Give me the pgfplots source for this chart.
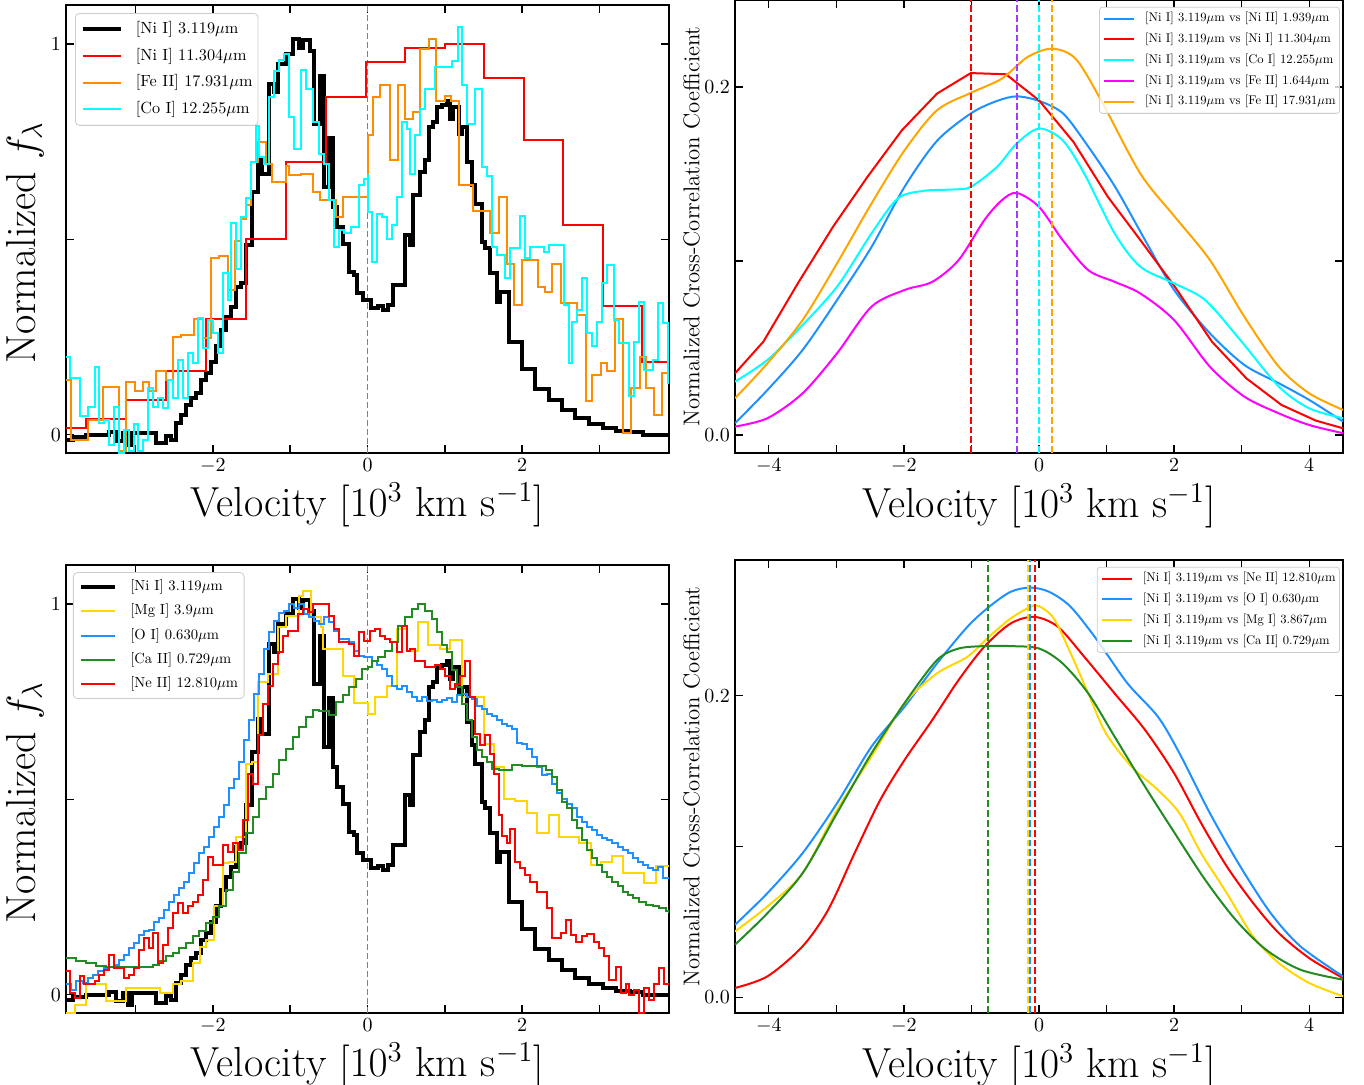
\documentclass[border=0pt]{standalone}
\usepackage{graphicx}
\usepackage{pgfplots}
\usepackage{pgfplotstable}
\pgfplotsset{compat=1.18}

\definecolor{dorange}{HTML}{FF8C00}
\definecolor{lorange}{HTML}{FFA500}
\definecolor{dodger}{HTML}{1E90FF}
\definecolor{forest}{HTML}{228B22}
\definecolor{goldc}{HTML}{FFD700}
\definecolor{cyanc}{HTML}{00FFFF}
\definecolor{magc}{HTML}{FF00FF}
\definecolor{redc}{HTML}{FF0000}

% legend texts: 10pt design size, scaled down
\newcommand\lgA[1]{\scalebox{0.81}{#1}}
\newcommand\lgB[1]{\scalebox{0.73}{#1}}
\newcommand\lgC[1]{\scalebox{0.63}{#1}}

% [Ni I] 3.119um, shared by both spectrum panels
\pgfplotstableread{
v f
-3.90 -0.013
-3.81 -0.006
-3.64 0.000
-3.34 0.008
-3.25 -0.017
-3.16 0.004
-3.10 -0.026
-3.04 0.004
-2.73 -0.021
-2.61 -0.004
-2.54 -0.013
-2.48 0.030
-2.41 0.051
-2.35 0.077
-2.28 0.094
-2.22 0.106
-2.15 0.140
-2.09 0.157
-2.02 0.187
-1.96 0.226
-1.89 0.268
-1.83 0.302
-1.77 0.328
-1.70 0.379
-1.64 0.387
-1.57 0.485
-1.49 0.621
-1.42 0.706
-1.36 0.668
-1.27 0.898
-1.21 0.877
-1.16 0.949
-1.06 0.974
-0.97 1.013
-0.88 0.991
-0.83 1.010
-0.75 0.983
-0.69 0.796
-0.62 0.917
-0.56 0.634
-0.50 0.760
-0.45 0.583
-0.39 0.532
-0.32 0.489
-0.24 0.417
-0.17 0.409
-0.13 0.362
-0.06 0.345
0.05 0.323
0.14 0.330
0.20 0.319
0.27 0.332
0.33 0.383
0.49 0.511
0.55 0.485
0.59 0.613
0.68 0.672
0.75 0.702
0.79 0.787
0.85 0.800
0.90 0.838
0.96 0.843
1.03 0.855
1.07 0.809
1.11 0.838
1.18 0.770
1.22 0.787
1.29 0.698
1.35 0.638
1.39 0.591
1.48 0.494
1.52 0.477
1.59 0.413
1.68 0.340
1.72 0.366
1.83 0.238
2.00 0.168
2.17 0.117
2.35 0.089
2.52 0.064
2.69 0.043
2.87 0.026
3.04 0.017
3.21 0.009
3.39 0.006
3.56 0.000
3.90 0.000
}\niI

\pgfplotsset{
  panel/.style={
    scale only axis,
    tick align=inside,
    major tick length=4pt, minor tick length=4pt,
    every tick/.style={black, line width=0.7pt},
    axis line style={black, line width=0.8pt},
    tick label style={font=\fontsize{10}{12}\selectfont},
    xticklabel style={yshift=0.8pt},
    yticklabel style={xshift=1pt},
    label style={font=\fontsize{21}{25}\selectfont},
    xlabel={Velocity [$10^3$ km s$^{-1}$]},
    xlabel style={at={(axis description cs:0.5,-0.116)}, anchor=center},
    legend cell align=left,
  },
  spec/.style={panel,
    width=301.5pt, height=224pt,
    xmin=-3.9, xmax=3.9, ymin=-0.047, ymax=1.1,
    xtick={-2,0,2}, minor xtick={-3,-1,1,3},
    ytick={0,1}, minor ytick={0.5},
    ylabel={Normalized $f_\lambda$},
    ylabel style={at={(axis description cs:-0.068,0.47)}, anchor=center},
  },
  ccf/.style={panel,
    width=304pt, height=226.5pt,
    xmin=-4.5, xmax=4.5, ymin=-0.0104,
    xtick={-4,-2,0,2,4}, minor xtick={-3,-1,1,3},
    ytick={0,0.2}, minor ytick={0.1},
    scaled y ticks=false,
    yticklabel style={/pgf/number format/.cd, fixed, fixed zerofill, precision=1},
    ylabel={Normalized Cross-Correlation Coefficient},
    ylabel style={font=\fontsize{11.4}{13}\selectfont, at={(axis description cs:-0.0715,0.5)}, anchor=center},
    legend style={at={(0.995,0.985)}, anchor=north east,
      font=\fontsize{10}{12}\selectfont, draw=black!20, rounded corners=1.5pt,
      fill=white, fill opacity=0.8, text opacity=1,
      inner xsep=2pt, inner ysep=2.65pt, row sep=4.2pt, column sep=4.85pt,
      nodes={inner sep=0pt, text height=4.6pt, text depth=1.6pt}},
    legend image code/.code={\draw[#1] (0pt,0pt) -- (15pt,0pt);},
  },
  zero/.style={forget plot, gray, line width=0.6pt, dash pattern=on 3pt off 1.5pt},
  peak/.style={forget plot, line width=0.9pt, dash pattern=on 3.4pt off 1.5pt},
}

\begin{document}
\begin{tikzpicture}
\path[use as bounding box] (0,0) rectangle (682pt,-542.5pt);

% ---------------- top left: spectra
\begin{axis}[spec, at={(33pt,-226.5pt)}, anchor=south west,
  legend style={at={(0.015,0.982)}, anchor=north west,
    font=\fontsize{10}{12}\selectfont, draw=black!20, rounded corners=2pt,
    fill=white, fill opacity=0.8, text opacity=1,
    inner xsep=2.75pt, inner ysep=3.9pt, row sep=5.25pt, column sep=6.5pt,
    nodes={inner sep=0pt, text height=6.1pt, text depth=2pt}},
  legend image code/.code={\draw[#1] (0pt,0pt) -- (19pt,0pt);},
]
\addplot[zero] coordinates {(0,-0.047)(0,1.1)};
\addplot[const plot, black, line width=2pt] table {\niI};
\addlegendentry{\lgA{[Ni I] 3.119$\mu$m}}
\addplot[const plot, redc, line width=1pt] coordinates {
(-3.9,0.017)(-3.64,0.040)(-3.12,0.089)(-2.61,0.163)(-2.09,0.295)(-1.57,0.500)
(-1.06,0.698)(-0.54,0.864)(-0.025,0.953)(0.49,0.989)(1.00,1.0)(1.51,0.913)
(2.02,0.755)(2.53,0.536)(3.04,0.330)(3.55,0.185)(3.9,0.185)};
\addlegendentry{\lgA{[Ni I] 11.304$\mu$m}}
\addplot[const plot, dorange, line width=1pt] coordinates {
(-3.9,0.140)(-3.83,-0.013)(-3.62,0.037)(-3.42,0.123)(-3.21,-0.043)(-3.12,0.136)
(-3.01,0.113)(-2.91,0.136)(-2.82,0.113)(-2.73,0.164)(-2.61,0.140)(-2.52,0.249)
(-2.41,0.255)(-2.24,0.295)(-2.13,0.247)(-2.02,0.451)(-1.92,0.457)(-1.81,0.370)
(-1.72,0.496)(-1.64,0.553)(-1.57,0.587)(-1.51,0.698)(-1.42,0.749)(-1.31,0.694)
(-1.23,0.647)(-1.06,0.689)(-1.01,0.664)(-0.86,0.668)(-0.71,0.621)(-0.62,0.600)
(-0.41,0.557)(-0.32,0.609)(0.0,0.766)(0.074,0.864)(0.16,0.894)(0.29,0.702)
(0.40,0.894)(0.485,0.809)(0.59,0.826)(0.68,0.987)(0.79,1.013)(0.88,0.855)
(1.00,0.868)(1.08,0.855)(1.19,0.638)(1.36,0.573)(1.50,0.573)(1.59,0.515)
(1.70,0.609)(1.81,0.438)(1.89,0.332)(2.00,0.447)(2.20,0.379)(2.30,0.366)
(2.39,0.438)(2.50,0.336)(2.71,0.306)(2.82,0.085)(2.91,0.153)(3.02,0.183)
(3.10,0.164)(3.20,0.295)(3.31,0.004)(3.41,0.119)(3.52,0.200)(3.60,0.119)
(3.70,0.051)(3.81,0.157)(3.9,0.157)};
\addlegendentry{\lgA{[Fe II] 17.931$\mu$m}}
\addplot[const plot, cyanc, line width=1pt] coordinates {
(-3.9,0.200)(-3.854,0.145)(-3.725,0.047)(-3.618,0.072)(-3.531,0.174)(-3.467,0.030)
(-3.402,0.038)(-3.338,-0.026)(-3.273,0.071)(-3.208,-0.047)(-3.144,0.013)(-3.079,-0.043)
(-3.015,0.026)(-2.972,-0.043)(-2.907,-0.013)(-2.842,0.119)(-2.778,0.072)(-2.713,0.094)
(-2.649,0.068)(-2.584,0.140)(-2.519,0.094)(-2.455,0.190)(-2.390,0.094)(-2.326,0.210)
(-2.261,0.183)(-2.196,0.298)(-2.132,0.221)(-2.067,0.294)(-2.003,0.260)(-1.938,0.209)
(-1.873,0.413)(-1.809,0.345)(-1.766,0.542)(-1.701,0.423)(-1.637,0.557)(-1.572,0.607)
(-1.507,0.698)(-1.443,0.791)(-1.400,0.711)(-1.335,0.694)(-1.270,0.864)(-1.206,0.932)
(-1.141,0.959)(-1.077,0.974)(-1.012,0.813)(-0.947,0.732)(-0.861,0.934)(-0.797,0.885)
(-0.711,0.800)(-0.624,0.719)(-0.560,0.694)(-0.495,0.600)(-0.431,0.481)(-0.366,0.523)
(-0.301,0.515)(-0.215,0.532)(-0.108,0.638)(-0.043,0.655)(0.0,0.664)(0.009,0.570)
(0.052,0.443)(0.117,0.566)(0.182,0.557)(0.247,0.502)(0.312,0.536)(0.377,0.609)
(0.442,0.800)(0.506,0.783)(0.550,0.668)(0.615,0.766)(0.680,0.834)(0.745,0.885)
(0.874,0.940)(1.091,0.957)(1.177,1.044)(1.221,0.894)(1.286,0.796)(1.394,0.885)
(1.481,0.685)(1.545,0.661)(1.610,0.481)(1.675,0.460)(1.784,0.400)(1.848,0.477)
(1.978,0.559)(2.043,0.451)(2.108,0.481)(2.281,0.468)(2.346,0.485)(2.541,0.332)
(2.606,0.183)(2.649,0.289)(2.714,0.319)(2.779,0.400)(2.844,0.260)(2.909,0.226)
(2.974,0.289)(3.039,0.389)(3.104,0.434)(3.190,0.294)(3.255,0.234)(3.385,0.098)
(3.450,0.238)(3.515,0.340)(3.580,0.166)(3.688,0.191)(3.753,0.336)(3.818,0.285)
(3.883,0.132)(3.9,0.132)};
\addlegendentry{\lgA{[Co I] 12.255$\mu$m}}
\end{axis}

% ---------------- top right: cross-correlation
\begin{axis}[ccf, at={(367.5pt,-226.5pt)}, anchor=south west, ymax=0.25]
\addplot[smooth, dodger, line width=1pt] coordinates {
(-4.50,0.0067)(-4.02,0.0258)(-3.50,0.0488)(-2.99,0.0775)(-2.48,0.108)(-1.99,0.1426)
(-1.51,0.169)(-1.00,0.185)(-0.62,0.192)(-0.33,0.1946)(0,0.192)(0.35,0.185)
(0.67,0.169)(1.12,0.143)(1.57,0.112)(2.00,0.0833)(2.53,0.0584)(3.04,0.0402)
(3.55,0.0297)(4.00,0.0201)(4.50,0.0077)};
\addlegendentry{\lgC{[Ni I] 3.119$\mu$m vs [Ni II] 1.939$\mu$m}}
\addplot[redc, line width=1pt] coordinates {
(-4.50,0.0354)(-4.08,0.0536)(-3.57,0.0871)(-3.05,0.1196)(-2.54,0.1483)(-2.03,0.1751)
(-1.51,0.1962)(-1.01,0.2080)(-0.49,0.2073)(0,0.1923)(0.51,0.1684)(1.02,0.1368)
(1.50,0.1120)(2.01,0.0852)(2.56,0.0536)(3.07,0.0325)(3.59,0.0172)(4.10,0.0082)
(4.50,0.0038)};
\addlegendentry{\lgC{[Ni I] 3.119$\mu$m vs [Ni I] 11.304$\mu$m}}
\addplot[smooth, cyanc, line width=1pt] coordinates {
(-4.50,0.0306)(-4.02,0.0431)(-3.57,0.0603)(-2.99,0.0852)(-2.48,0.1158)(-2.09,0.1359)
(-1.71,0.1403)(-1.26,0.1411)(-1.01,0.1426)(-0.62,0.1541)(-0.33,0.1675)(0,0.1761)
(0.35,0.1694)(0.67,0.1502)(1.12,0.1158)(1.50,0.0967)(2.00,0.0871)(2.46,0.0775)
(2.98,0.0545)(3.55,0.0278)(4.00,0.0153)(4.50,0.0096)};
\addlegendentry{\lgC{[Ni I] 3.119$\mu$m vs [Co I] 12.255$\mu$m}}
\addplot[smooth, magc, line width=1pt] coordinates {
(-4.50,0.0048)(-4.02,0.0096)(-3.50,0.0239)(-2.99,0.0469)(-2.48,0.0737)(-1.99,0.0833)
(-1.58,0.0880)(-1.19,0.1005)(-0.81,0.1234)(-0.55,0.1349)(-0.33,0.1391)(0,0.1311)
(0.35,0.1120)(0.73,0.0947)(1.12,0.0880)(1.50,0.0813)(2.00,0.0660)(2.53,0.0392)
(3.04,0.0220)(3.55,0.0124)(4.00,0.0057)(4.50,0.0010)};
\addlegendentry{\lgC{[Ni I] 3.119$\mu$m vs [Fe II] 1.644$\mu$m}}
\addplot[smooth, lorange, line width=1pt] coordinates {
(-4.50,0.0211)(-4.02,0.0411)(-3.50,0.066)(-2.99,0.0986)(-2.48,0.133)(-1.99,0.1636)
(-1.51,0.1866)(-1.01,0.1966)(-0.55,0.2048)(-0.17,0.2172)(0.19,0.2220)(0.54,0.2163)
(0.92,0.1923)(1.50,0.1502)(2.01,0.1254)(2.53,0.1005)(3.04,0.0679)(3.55,0.0392)
(4.00,0.0239)(4.50,0.0144)};
\addlegendentry{\lgC{[Ni I] 3.119$\mu$m vs [Fe II] 17.931$\mu$m}}
\addplot[peak, redc, line width=1pt] coordinates {(-1.01,-0.0104)(-1.01,0.25)};
\addplot[peak, dodger, line width=1.1pt] coordinates {(-0.33,-0.0104)(-0.33,0.25)};
\addplot[peak, magc, line width=1.1pt, opacity=0.6] coordinates {(-0.33,-0.0104)(-0.33,0.25)};
\addplot[peak, cyanc] coordinates {(0,-0.0104)(0,0.25)};
\addplot[peak, lorange] coordinates {(0.19,-0.0104)(0.19,0.25)};
\end{axis}

% ---------------- bottom left: spectra
\begin{axis}[spec, at={(33pt,-506.5pt)}, anchor=south west,
  legend style={at={(0.0116,0.984)}, anchor=north west,
    font=\fontsize{10}{12}\selectfont, draw=black!20, rounded corners=2pt,
    fill=white, fill opacity=0.8, text opacity=1,
    inner xsep=3pt, inner ysep=3.55pt, row sep=4.85pt, column sep=6.5pt,
    nodes={inner sep=0pt, text height=5.5pt, text depth=1.8pt}},
  legend image code/.code={\draw[#1] (0pt,0pt) -- (17pt,0pt);},
]
\addplot[zero] coordinates {(0,-0.047)(0,1.1)};
\addplot[const plot, black, line width=2pt] table {\niI};
\addlegendentry{\lgB{[Ni I] 3.119$\mu$m}}
\addplot[const plot, goldc, line width=1pt] coordinates {
(-3.9,-0.047)(-3.79,-0.026)(-3.64,0.026)(-3.38,-0.017)(-3.12,0.017)(-2.69,0.004)
(-2.52,0.026)(-2.41,0.034)(-2.26,0.081)(-2.17,0.123)(-2.09,0.140)(-1.98,0.226)
(-1.87,0.336)(-1.79,0.340)(-1.70,0.404)(-1.57,0.591)(-1.49,0.596)(-1.42,0.800)
(-1.29,0.821)(-1.16,0.940)(-1.06,0.970)(-0.88,1.021)(-0.84,1.034)(-0.73,0.966)
(-0.60,0.940)(-0.58,0.885)(-0.32,0.817)(-0.17,0.747)(0.0,0.719)(0.095,0.762)
(0.247,0.789)(0.377,0.936)(0.506,0.881)(0.658,0.953)(0.788,0.894)(0.939,0.885)
(1.069,0.908)(1.221,0.762)(1.502,0.643)(1.632,0.583)(1.762,0.502)(1.913,0.496)
(2.065,0.464)(2.195,0.413)(2.346,0.460)(2.476,0.404)(2.736,0.387)(2.887,0.332)
(3.017,0.340)(3.169,0.355)(3.299,0.311)(3.580,0.285)(3.732,0.330)(3.9,0.330)};
\addlegendentry{\lgB{[Mg I] 3.9$\mu$m}}
\addplot[const plot, dodger, line width=1pt] coordinates {
(-3.9,0.026)(-3.833,0.013)(-3.768,0.034)(-3.682,0.030)(-3.618,0.043)(-3.553,0.051)
(-3.488,0.060)(-3.402,0.068)(-3.338,0.072)(-3.273,0.077)(-3.208,0.089)(-3.144,0.102)
(-3.079,0.119)(-3.015,0.132)(-2.950,0.153)(-2.885,0.162)(-2.821,0.166)(-2.756,0.187)
(-2.692,0.196)(-2.627,0.217)(-2.562,0.238)(-2.498,0.255)(-2.433,0.272)(-2.369,0.289)
(-2.304,0.311)(-2.239,0.336)(-2.175,0.362)(-2.110,0.379)(-2.046,0.404)(-1.981,0.430)
(-1.916,0.455)(-1.852,0.485)(-1.787,0.528)(-1.723,0.553)(-1.658,0.596)(-1.593,0.651)
(-1.529,0.702)(-1.464,0.770)(-1.400,0.821)(-1.335,0.885)(-1.270,0.928)(-1.206,0.957)
(-1.141,0.976)(-1.077,0.983)(-1.012,1.000)(-0.947,0.991)(-0.883,1.000)(-0.818,0.974)
(-0.754,0.966)(-0.689,0.957)(-0.624,0.949)(-0.560,0.966)(-0.495,0.953)(-0.431,0.932)
(-0.366,0.911)(-0.237,0.902)(-0.172,0.881)(-0.108,0.868)(-0.043,0.864)(0.052,0.855)
(0.117,0.843)(0.182,0.834)(0.247,0.817)(0.312,0.791)(0.377,0.783)(0.442,0.791)
(0.506,0.774)(0.571,0.762)(0.636,0.753)(0.701,0.762)(0.766,0.753)(0.831,0.755)
(0.896,0.749)(0.961,0.755)(1.026,0.760)(1.091,0.749)(1.156,0.766)(1.221,0.770)
(1.286,0.762)(1.351,0.757)(1.416,0.738)(1.481,0.732)(1.545,0.719)(1.610,0.713)
(1.675,0.702)(1.740,0.694)(1.805,0.689)(1.870,0.681)(1.935,0.644)(2.000,0.641)
(2.065,0.630)(2.130,0.609)(2.195,0.583)(2.260,0.562)(2.325,0.566)(2.390,0.540)
(2.455,0.515)(2.519,0.502)(2.584,0.489)(2.649,0.477)(2.714,0.455)(2.779,0.443)
(2.844,0.430)(2.909,0.421)(2.974,0.409)(3.039,0.400)(3.104,0.396)(3.169,0.387)
(3.234,0.379)(3.299,0.370)(3.364,0.362)(3.429,0.349)(3.494,0.340)(3.558,0.332)
(3.623,0.323)(3.688,0.319)(3.753,0.328)(3.818,0.298)(3.9,0.298)};
\addlegendentry{\lgB{[O I] 0.630$\mu$m}}
\addplot[const plot, forest, line width=1pt] coordinates {
(-3.9,0.094)(-3.768,0.085)(-3.639,0.081)(-3.510,0.074)(-3.381,0.071)(-2.864,0.072)
(-2.778,0.077)(-2.692,0.085)(-2.606,0.098)(-2.519,0.106)(-2.433,0.119)(-2.347,0.132)
(-2.261,0.149)(-2.175,0.162)(-2.089,0.183)(-2.003,0.200)(-1.916,0.226)(-1.830,0.268)
(-1.744,0.315)(-1.658,0.362)(-1.572,0.413)(-1.486,0.455)(-1.400,0.502)(-1.313,0.532)
(-1.227,0.566)(-1.141,0.600)(-1.055,0.630)(-0.969,0.660)(-0.883,0.685)(-0.797,0.711)
(-0.711,0.728)(-0.624,0.726)(-0.495,0.715)(-0.409,0.749)(-0.323,0.766)(-0.237,0.787)
(-0.151,0.809)(-0.065,0.834)(0.0,0.838)(0.052,0.855)(0.139,0.864)(0.225,0.881)
(0.312,0.902)(0.398,0.945)(0.485,0.966)(0.571,0.987)(0.658,1.000)(0.745,0.983)
(0.831,0.962)(0.896,0.928)(0.961,0.894)(1.026,0.877)(1.091,0.830)(1.156,0.787)
(1.221,0.745)(1.286,0.702)(1.351,0.660)(1.416,0.626)(1.481,0.609)(1.545,0.596)
(1.610,0.579)(1.697,0.574)(1.870,0.587)(2.000,0.585)(2.303,0.574)(2.390,0.557)
(2.455,0.523)(2.519,0.494)(2.584,0.477)(2.649,0.447)(2.714,0.426)(2.779,0.396)
(2.844,0.370)(2.909,0.349)(2.974,0.332)(3.039,0.315)(3.104,0.302)(3.169,0.289)
(3.234,0.277)(3.299,0.264)(3.364,0.255)(3.429,0.247)(3.515,0.238)(3.602,0.230)
(3.688,0.226)(3.775,0.221)(3.861,0.214)(3.9,0.210)};
\addlegendentry{\lgB{[Ca II] 0.729$\mu$m}}
\addplot[const plot, redc, line width=1pt] coordinates {
(-3.9,0.060)(-3.854,0.004)(-3.790,-0.009)(-3.725,0.047)(-3.661,0.026)(-3.531,0.034)
(-3.467,0.051)(-3.402,0.064)(-3.338,0.102)(-3.273,0.068)(-3.144,0.043)(-3.079,0.051)
(-3.015,0.068)(-2.950,0.115)(-2.885,0.145)(-2.821,0.119)(-2.769,0.157)(-2.713,0.081)
(-2.649,0.128)(-2.584,0.170)(-2.519,0.209)(-2.455,0.234)(-2.390,0.209)(-2.326,0.226)
(-2.261,0.238)(-2.196,0.255)(-2.132,0.294)(-2.067,0.353)(-2.003,0.332)(-1.873,0.383)
(-1.809,0.366)(-1.744,0.387)(-1.680,0.370)(-1.615,0.447)(-1.550,0.566)(-1.486,0.540)
(-1.421,0.664)(-1.357,0.745)(-1.292,0.791)(-1.227,0.847)(-1.163,0.877)(-1.098,0.919)
(-1.034,0.932)(-0.904,0.974)(-0.840,0.987)(-0.775,0.979)(-0.711,1.000)(-0.495,0.970)
(-0.431,0.936)(-0.366,0.902)(-0.237,0.898)(-0.172,0.868)(-0.108,0.928)(-0.043,0.906)
(0.030,0.932)(0.095,0.936)(0.160,0.919)(0.225,0.911)(0.290,0.902)(0.377,0.877)
(0.442,0.945)(0.506,0.881)(0.550,0.885)(0.615,0.855)(0.745,0.838)(0.874,0.843)
(0.939,0.834)(1.004,0.817)(1.069,0.783)(1.134,0.796)(1.199,0.817)(1.264,0.855)
(1.329,0.762)(1.394,0.668)(1.459,0.638)(1.524,0.664)(1.589,0.617)(1.632,0.566)
(1.697,0.460)(1.740,0.406)(1.805,0.387)(1.848,0.423)(1.913,0.340)(1.978,0.323)
(2.043,0.306)(2.108,0.289)(2.195,0.264)(2.325,0.221)(2.390,0.145)(2.498,0.159)
(2.563,0.191)(2.628,0.153)(2.693,0.136)(2.779,0.149)(2.844,0.156)(2.931,0.136)
(2.996,0.119)(3.061,0.098)(3.126,0.037)(3.212,0.072)(3.277,0.004)(3.342,0.026)
(3.385,0.0)(3.450,0.013)(3.515,-0.047)(3.580,0.017)(3.645,-0.013)(3.710,0.026)
(3.775,0.068)(3.840,0.026)(3.9,0.026)};
\addlegendentry{\lgB{[Ne II] 12.810$\mu$m}}
\end{axis}

% ---------------- bottom right: cross-correlation
\begin{axis}[ccf, at={(367.5pt,-506.5pt)}, anchor=south west, ymax=0.29]
\addplot[smooth, redc, line width=1pt] coordinates {
(-4.50,0.0062)(-4.02,0.0139)(-3.50,0.0338)(-3.12,0.0581)(-2.73,0.0956)(-2.35,0.1309)
(-1.99,0.1574)(-1.58,0.1839)(-1.19,0.2104)(-0.81,0.2325)(-0.42,0.2479)(-0.07,0.2523)
(0.28,0.2457)(0.67,0.2258)(1.12,0.2015)(1.57,0.1773)(2.00,0.1486)(2.40,0.1155)
(2.78,0.0868)(3.17,0.0625)(3.55,0.0426)(4.00,0.0260)(4.50,0.0128)};
\addlegendentry{\lgC{[Ni I] 3.119$\mu$m vs [Ne II] 12.810$\mu$m}}
\addplot[smooth, dodger, line width=1pt] coordinates {
(-4.50,0.0481)(-4.02,0.0691)(-3.50,0.0956)(-2.99,0.1287)(-2.48,0.1662)(-1.99,0.1927)
(-1.51,0.2214)(-1.06,0.2457)(-0.74,0.2589)(-0.42,0.2689)(-0.13,0.2717)(0.15,0.2689)
(0.47,0.2589)(0.86,0.2369)(1.31,0.2082)(1.76,0.1861)(2.08,0.1618)(2.53,0.1221)
(2.98,0.0868)(3.43,0.0558)(3.87,0.0338)(4.50,0.0139)};
\addlegendentry{\lgC{[Ni I] 3.119$\mu$m vs [O I] 0.630$\mu$m}}
\addplot[smooth, goldc, line width=1pt] coordinates {
(-4.50,0.0437)(-4.02,0.0603)(-3.50,0.0823)(-2.99,0.1243)(-2.48,0.1596)(-1.99,0.1949)
(-1.51,0.2148)(-1.06,0.2258)(-0.74,0.2391)(-0.42,0.2512)(-0.13,0.2589)(0,0.2594)
(0.22,0.2512)(0.47,0.2280)(0.73,0.2015)(0.99,0.1751)(1.37,0.1530)(1.76,0.1375)
(2.08,0.1221)(2.40,0.0956)(2.78,0.0691)(3.17,0.0404)(3.55,0.0227)(4.00,0.0095)
(4.50,0.0007)};
\addlegendentry{\lgC{[Ni I] 3.119$\mu$m vs [Mg I] 3.867$\mu$m}}
\addplot[smooth, forest, line width=1pt] coordinates {
(-4.50,0.0349)(-4.02,0.0558)(-3.50,0.0823)(-2.99,0.1221)(-2.48,0.1618)(-1.96,0.1971)
(-1.51,0.2236)(-1.19,0.2313)(-0.81,0.2329)(-0.42,0.2329)(0,0.2313)(0.35,0.2214)
(0.73,0.2015)(1.12,0.1728)(1.57,0.1397)(2.01,0.1088)(2.46,0.0779)(2.91,0.0514)
(3.36,0.0316)(3.87,0.0183)(4.50,0.0117)};
\addlegendentry{\lgC{[Ni I] 3.119$\mu$m vs [Ca II] 0.729$\mu$m}}
\addplot[peak, forest, line width=1pt] coordinates {(-0.76,-0.0104)(-0.76,0.29)};
\addplot[peak, dodger] coordinates {(-0.13,-0.0104)(-0.13,0.29)};
\addplot[peak, goldc] coordinates {(-0.16,-0.0104)(-0.16,0.29)};
\addplot[peak, redc] coordinates {(-0.06,-0.0104)(-0.06,0.29)};
\end{axis}
\end{tikzpicture}
\end{document}
